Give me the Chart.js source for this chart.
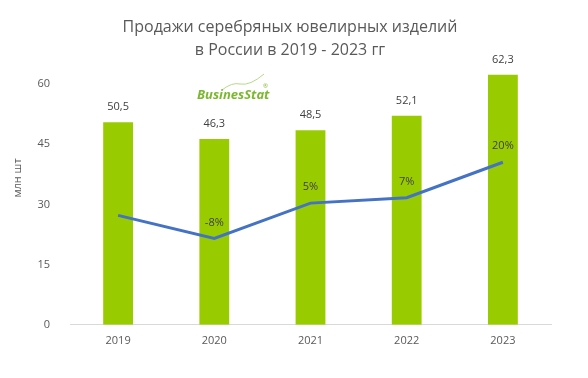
<!DOCTYPE html>
<html>
<head>
<meta charset="utf-8">
<script src="https://cdn.jsdelivr.net/npm/chart.js@4"></script>
<style>
  html, body { margin: 0; padding: 0; background: #fff; }
  #wrap { width: 588px; height: 378px; }
</style>
</head>
<body>
<div id="wrap"><canvas id="chart" width="588" height="378"></canvas></div>
<script>
const years = ["2019", "2020", "2021", "2022", "2023"];
const sales = [50.5, 46.3, 48.5, 52.1, 62.3];
const growth = [0.5, -8, 5, 7, 20];
const growthLabels = ["", "-8%", "5%", "7%", "20%"];
const yTicks = [0, 15, 30, 45, 60];

const FONT = "'Open Sans', 'Liberation Sans', sans-serif";

// titles, logo and value labels
const decor = {
    id: 'decor',
    afterDatasetsDraw(chart) {
        const ctx = chart.ctx;
        ctx.save();
        ctx.fillStyle = '#595959';
        ctx.textAlign = 'center';
        ctx.textBaseline = 'middle';
        ctx.font = "16px " + FONT;
        ctx.fillText('Продажи серебряных ювелирных изделий', 290, 27);
        ctx.fillText('в России в 2019 - 2023 гг', 290, 50);

        // axis title
        ctx.save();
        ctx.translate(18, 178);
        ctx.rotate(-Math.PI / 2);
        ctx.font = "11px " + FONT;
        ctx.fillText('млн шт', 0, 0);
        ctx.restore();

        // bar labels
        ctx.fillStyle = '#404040';
        ctx.font = "11px " + FONT;
        const bars = chart.getDatasetMeta(1).data;
        bars.forEach((b, i) => {
            ctx.fillText(sales[i].toFixed(1).replace('.', ','), b.x, b.y - 15);
        });
        const pts = chart.getDatasetMeta(0).data;
        pts.forEach((p, i) => {
            if (growthLabels[i]) ctx.fillText(growthLabels[i], p.x, p.y - 16);
        });

        // logo
        ctx.strokeStyle = '#b5d98a';
        ctx.lineWidth = 1;
        ctx.beginPath();
        ctx.moveTo(222, 90);
        ctx.quadraticCurveTo(232, 82, 240, 84);
        ctx.quadraticCurveTo(250, 86, 264, 74);
        ctx.stroke();
        ctx.fillStyle = '#7cb82f';
        ctx.textAlign = 'left';
        ctx.textBaseline = 'alphabetic';
        ctx.font = "italic bold 13px " + FONT;
        ctx.fillText('BusinesStat', 197, 99);
        ctx.font = "6px " + FONT;
        ctx.fillText('®', 263, 88);
        ctx.restore();
    }
};

new Chart(document.getElementById('chart'), {
    type: 'bar',
    data: {
        labels: years,
        datasets: [
            {
                type: 'line',
                data: growth,
                yAxisID: 'y1',
                borderColor: '#4472c4',
                borderWidth: 3,
                pointRadius: 0,
                tension: 0,
                order: 0
            },
            {
                type: 'bar',
                data: sales,
                yAxisID: 'y',
                backgroundColor: '#99cc00',
                barPercentage: 0.62,
                categoryPercentage: 0.5,
                order: 1
            }
        ]
    },
    options: {
        responsive: false,
        animation: false,
        layout: { padding: { top: 64, right: 37, left: 0, bottom: 30 } },
        plugins: {
            legend: { display: false },
            tooltip: { enabled: false },
            title: { display: false }
        },
        scales: {
            x: {
                grid: { display: false },
                border: { color: '#d9d9d9', width: 1 },
                ticks: { color: '#595959', font: { family: FONT, size: 11 }, padding: 1 }
            },
            y: {
                min: 0,
                max: 65,
                afterBuildTicks(axis) { axis.ticks = yTicks.map(v => ({ value: v })); },
                afterFit(axis) { axis.width = 70; },
                grid: { display: false },
                border: { display: false },
                ticks: { color: '#595959', font: { family: FONT, size: 11 }, padding: 12 }
            },
            y1: {
                display: false,
                min: -39.7,
                max: 56.1
            }
        }
    },
    plugins: [decor]
});
</script>
</body>
</html>
